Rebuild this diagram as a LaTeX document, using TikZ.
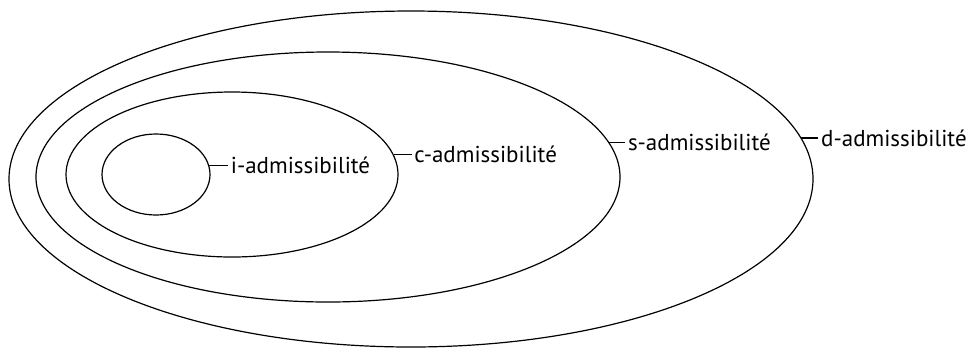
\documentclass[tikz,border=0pt]{standalone}
\usepackage{fontspec}
\setmainfont{PT Sans}
\usepackage{tikz}
\usetikzlibrary{shapes.geometric,positioning}

\tikzset{
	zone/.style={ellipse, draw, line width=1.2pt, inner sep=0pt},
	lbl/.style={inner sep=2.5pt, font=\fontsize{23}{27}\selectfont}
}

\begin{document}
\begin{tikzpicture}[x=1pt, y=-1pt]
	\useasboundingbox (0,0) rectangle (968,349);
	% nested classes
	\node [zone, minimum width=804pt, minimum height=336pt] (dzone) at (411,179) {};
	\node [zone, minimum width=584pt, minimum height=250pt] (szone) at (328,177) {};
	\node [zone, minimum width=332pt, minimum height=165pt] (czone) at (232,174.5) {};
	\node [zone, minimum width=108pt, minimum height=81pt] (izone) at (156,174.5) {};
	% labels
	\node [lbl, right=19pt of izone.10.3] (ilbl) {i-admissibilité};
	\node [lbl, right=18pt of czone.7.3] (clbl) {c-admissibilité};
	\node [lbl, right=16pt of szone.7.1] (slbl) {s-admissibilité};
	\node [lbl, right=17pt of dzone.6.9] (dlbl) {d-admissibilité};
	\draw [line width=1.2pt] (izone.10.3) -- (ilbl.west);
	\draw [line width=1.2pt] (czone.7.3) -- (clbl.west);
	\draw [line width=1.2pt] (szone.7.1) -- (slbl.west);
	\draw [line width=1.2pt] (dzone.6.9) -- (dlbl.west);
\end{tikzpicture}
\end{document}
